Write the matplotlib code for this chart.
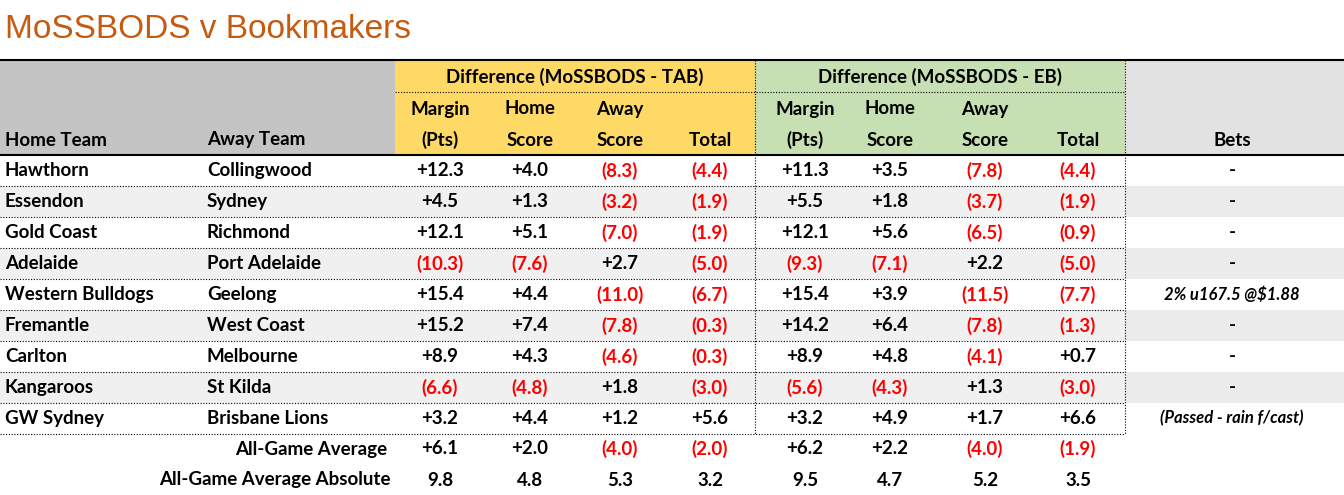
import matplotlib.pyplot as plt
from matplotlib.patches import Rectangle

home_teams = ["Hawthorn", "Essendon", "Gold Coast", "Adelaide", "Western Bulldogs",
              "Fremantle", "Carlton", "Kangaroos", "GW Sydney"]
away_teams = ["Collingwood", "Sydney", "Richmond", "Port Adelaide", "Geelong",
              "West Coast", "Melbourne", "St Kilda", "Brisbane Lions"]
tab_margin = [12.3, 4.5, 12.1, -10.3, 15.4, 15.2, 8.9, -6.6, 3.2]
tab_home = [4.0, 1.3, 5.1, -7.6, 4.4, 7.4, 4.3, -4.8, 4.4]
tab_away = [-8.3, -3.2, -7.0, 2.7, -11.0, -7.8, -4.6, 1.8, 1.2]
tab_total = [-4.4, -1.9, -1.9, -5.0, -6.7, -0.3, -0.3, -3.0, 5.6]
eb_margin = [11.3, 5.5, 12.1, -9.3, 15.4, 14.2, 8.9, -5.6, 3.2]
eb_home = [3.5, 1.8, 5.6, -7.1, 3.9, 6.4, 4.8, -4.3, 4.9]
eb_away = [-7.8, -3.7, -6.5, 2.2, -11.5, -7.8, -4.1, 1.3, 1.7]
eb_total = [-4.4, -1.9, -0.9, -5.0, -7.7, -1.3, 0.7, -3.0, 6.6]
bets = ["-", "-", "-", "-", "2% u167.5 @$1.88", "-", "-", "-", "(Passed - rain f/cast)"]
avg_row = [6.1, 2.0, -4.0, -2.0, 6.2, 2.2, -4.0, -1.9]
abs_row = [9.8, 4.8, 5.3, 3.2, 9.5, 4.7, 5.2, 3.5]

W, H = 1344, 495
plt.rcParams["font.family"] = "Lato"
fig = plt.figure(figsize=(W / 100, H / 100), dpi=100)
ax = fig.add_axes([0, 0, 1, 1])
ax.set_xlim(0, W)
ax.set_ylim(H, 0)
ax.axis("off")

FS = 13.5
num_x = [440, 530, 620, 710, 805, 890, 985, 1078]


def fmt(v):
    return ("(%.1f)" % -v) if v < 0 else ("+%.1f" % v)


def txt(x, y, s, ha="center", color="black", **kw):
    ax.text(x, y, s, ha=ha, va="center", fontsize=FS, fontweight="bold", color=color, **kw)


ax.text(5, 29, "MoSSBODS v Bookmakers", fontsize=24, color="#c55a11", va="center",
        family="Liberation Sans")

# header backgrounds
ax.add_patch(Rectangle((0, 60), 395, 95, color="#c4c4c4", lw=0))
ax.add_patch(Rectangle((395, 60), 360, 95, color="#ffd966", lw=0))
ax.add_patch(Rectangle((755, 60), 370, 95, color="#c6e0b4", lw=0))
ax.add_patch(Rectangle((1125, 60), 219, 95, color="#e2e2e2", lw=0))

row_h = 31
top = 155
for i in range(len(home_teams)):
    y0 = top + i * row_h
    if i % 2 == 1:
        ax.add_patch(Rectangle((0, y0), 1125, row_h, color="#f0f0f0", lw=0))
        ax.add_patch(Rectangle((1125, y0), 219, row_h, color="#ebebeb", lw=0))
    if i > 0:
        ax.plot([0, 1125], [y0, y0], color="black", lw=0.8, ls=(0, (1, 1.5)))
ax.plot([0, 1125], [top + 9 * row_h] * 2, color="black", lw=0.8, ls=(0, (1, 1.5)))

ax.plot([0, W], [60, 60], color="black", lw=1.5)
ax.plot([0, W], [155, 155], color="black", lw=1.5)
ax.plot([395, 1125], [92, 92], color="black", lw=0.8, ls=(0, (1, 1.5)))
for x in [755, 1125]:
    ax.plot([x, x], [60, top + 9 * row_h], color="black", lw=0.8, ls=(0, (1, 1.5)))

# header text
txt(575, 77, "Difference (MoSSBODS - TAB)")
txt(940, 77, "Difference (MoSSBODS - EB)")
txt(5, 140, "Home Team", ha="left")
txt(207, 140, "Away Team", ha="left")
for k, (a, b) in enumerate([("Margin", "(Pts)"), ("Home", "Score"), ("Away", "Score"), ("", "Total")] * 2):
    txt(num_x[k], 109, a)
    txt(num_x[k], 140, b)
txt(1232, 140, "Bets")

cols = [tab_margin, tab_home, tab_away, tab_total, eb_margin, eb_home, eb_away, eb_total]
for i in range(len(home_teams)):
    yc = top + i * row_h + row_h / 2
    txt(5, yc, home_teams[i], ha="left")
    txt(207, yc, away_teams[i], ha="left")
    for k, c in enumerate(cols):
        v = c[i]
        txt(num_x[k], yc, fmt(v), color="red" if v < 0 else "black")
    b = bets[i]
    if b == "-":
        txt(1232, yc, b)
    else:
        ax.text(1232, yc, b, ha="center", va="center", fontsize=12, fontweight="bold",
                style="italic")

txt(387, 449, "All-Game Average", ha="right")
txt(391, 480, "All-Game Average Absolute", ha="right")
for k in range(8):
    v = avg_row[k]
    txt(num_x[k], 449, fmt(v), color="red" if v < 0 else "black")
    txt(num_x[k], 480, "%.1f" % abs_row[k])

fig.savefig("out.png", dpi=100)
